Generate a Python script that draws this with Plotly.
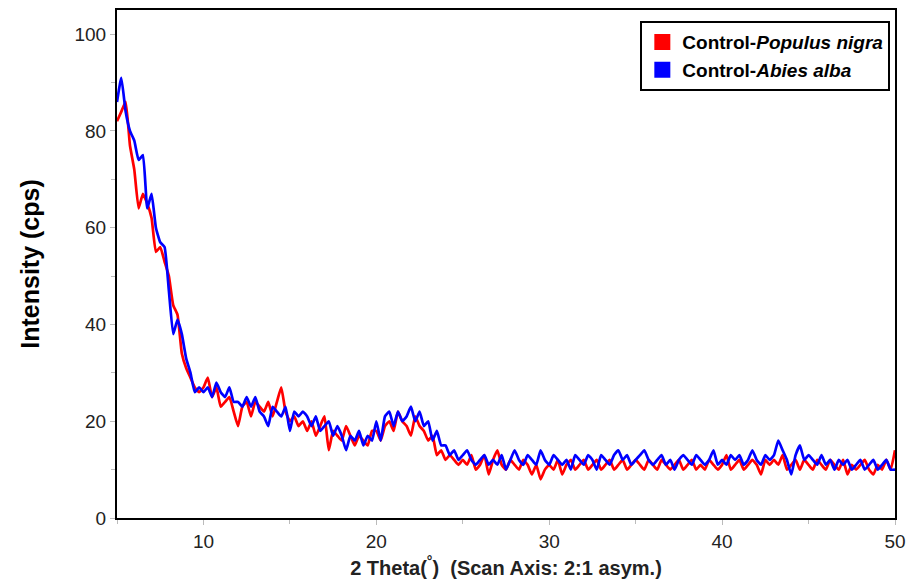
import numpy as np
import plotly.graph_objects as go

# scan grid: 5 to 50 deg, 0.25 deg step
two_theta = np.round(np.linspace(5, 50, 181), 2)

populus_nigra = [
    82, 84, 86, 77,
    72, 64, 67, 65,
    62, 55, 56, 53,
    50, 44, 42, 34,
    31, 29, 27, 26,
    27, 29, 25, 27,
    23, 24, 25, 22,
    19, 23, 24, 21,
    24, 23, 22, 24,
    21, 24, 27, 22,
    20, 21, 19, 20,
    18, 20, 17, 19,
    21, 14, 18, 17,
    16, 19, 17, 15,
    17, 16, 15, 18,
    18, 16, 19, 20,
    18, 22, 20, 19,
    17, 21, 19, 18,
    16, 17, 13, 14,
    12, 13, 12, 11,
    12, 11, 13, 10,
    11, 13, 9, 12,
    14, 11, 10, 12,
    11, 10, 12, 11,
    9, 11, 8, 10,
    11, 10, 12, 9,
    11, 12, 10, 11,
    12, 10, 11, 12,
    10, 11, 12, 10,
    11, 12, 10, 11,
    12, 11, 10, 12,
    11, 10, 12, 11,
    10, 11, 12, 10,
    11, 12, 10, 11,
    10, 12, 11, 10,
    11, 13, 10, 11,
    12, 10, 11, 12,
    11, 9, 12, 11,
    12, 11, 13, 10,
    11, 12, 10, 12,
    11, 10, 12, 11,
    10, 12, 11, 10,
    12, 9, 11, 10,
    11, 12, 10, 9,
    11, 10, 12, 10,
    14,
]

abies_alba = [
    86, 91, 84, 80,
    78, 74, 75, 64,
    67, 60, 57, 56,
    47, 38, 41, 38,
    33, 30, 26, 27,
    26, 27, 25, 28,
    26, 25, 27, 24,
    24, 23, 25, 23,
    25, 22, 21, 19,
    23, 22, 21, 23,
    18, 22, 21, 22,
    21, 19, 21, 18,
    19, 20, 17, 19,
    17, 14, 17, 16,
    18, 15, 17, 16,
    20, 16, 21, 22,
    19, 22, 20, 21,
    23, 20, 22, 19,
    20, 16, 18, 15,
    15, 13, 14, 12,
    13, 14, 12, 11,
    12, 13, 11, 12,
    11, 13, 10, 12,
    14, 12, 11, 13,
    12, 11, 14, 12,
    11, 13, 12, 11,
    12, 10, 13, 12,
    11, 13, 12, 10,
    13, 12, 11, 13,
    14, 12, 13, 11,
    12, 13, 14, 12,
    11, 12, 13, 11,
    12, 10, 12, 13,
    12, 11, 13, 12,
    11, 12, 14, 11,
    12, 11, 13, 12,
    13, 11, 12, 14,
    12, 11, 13, 12,
    13, 16, 14, 12,
    9, 13, 15, 12,
    13, 12, 11, 13,
    11, 12, 10, 12,
    11, 12, 10, 11,
    12, 10, 11, 12,
    10, 11, 12, 10,
    10,
]

series_names = ["Control-<i>Populus nigra</i>", "Control-<i>Abies alba</i>"]
series_colors = ["#ff0000", "#0000ff"]

fig = go.Figure()
for vals, name, col in zip([populus_nigra, abies_alba], series_names, series_colors):
    fig.add_trace(go.Scatter(x=two_theta, y=vals, mode="lines",
                             line=dict(color=col, width=2.7, shape="spline", smoothing=0.4),
                             showlegend=False, hoverinfo="skip"))
for name, col in zip(series_names, series_colors):
    fig.add_trace(go.Scatter(x=[None], y=[None], mode="markers", name="<b>" + name + "</b>",
                             marker=dict(symbol="square", size=20, color=col)))

fig.update_layout(
    width=914, height=584,
    margin=dict(l=117, r=14, t=8, b=65),
    paper_bgcolor="white", plot_bgcolor="white",
    font=dict(family="Liberation Sans, Arial, sans-serif", color="#222222"),
    legend=dict(x=0.994, y=0.978, xanchor="right", yanchor="top",
                bgcolor="white", bordercolor="black", borderwidth=2,
                font=dict(size=19, color="black"), itemwidth=30,
                tracegroupgap=0),
)
fig.update_xaxes(
    range=[5, 50], tickvals=[10, 20, 30, 40, 50],
    tickfont=dict(size=19), ticks="outside", ticklen=5, tickcolor="#bbbbbb",
    minor=dict(dtick=5, ticks="outside", ticklen=4, tickcolor="#bbbbbb", tick0=5),
    showgrid=False, zeroline=False, showline=True, linecolor="black", linewidth=2, mirror=True,
    title=dict(text="<b>2 Theta(<sup>°</sup>)  (Scan Axis: 2:1 asym.)</b>", font=dict(size=20, color="#222222"), standoff=10),
)
fig.update_yaxes(
    range=[0, 105], tickvals=[0, 20, 40, 60, 80, 100],
    tickfont=dict(size=19), ticks="outside", ticklen=5, tickcolor="#bbbbbb",
    minor=dict(dtick=10, ticks="outside", ticklen=4, tickcolor="#bbbbbb"),
    showgrid=False, zeroline=False, showline=True, linecolor="black", linewidth=2, mirror=True,
    title=dict(text="<b>Intensity (cps)</b>", font=dict(size=25, color="black"), standoff=28),
)

fig.write_html("out.html")
